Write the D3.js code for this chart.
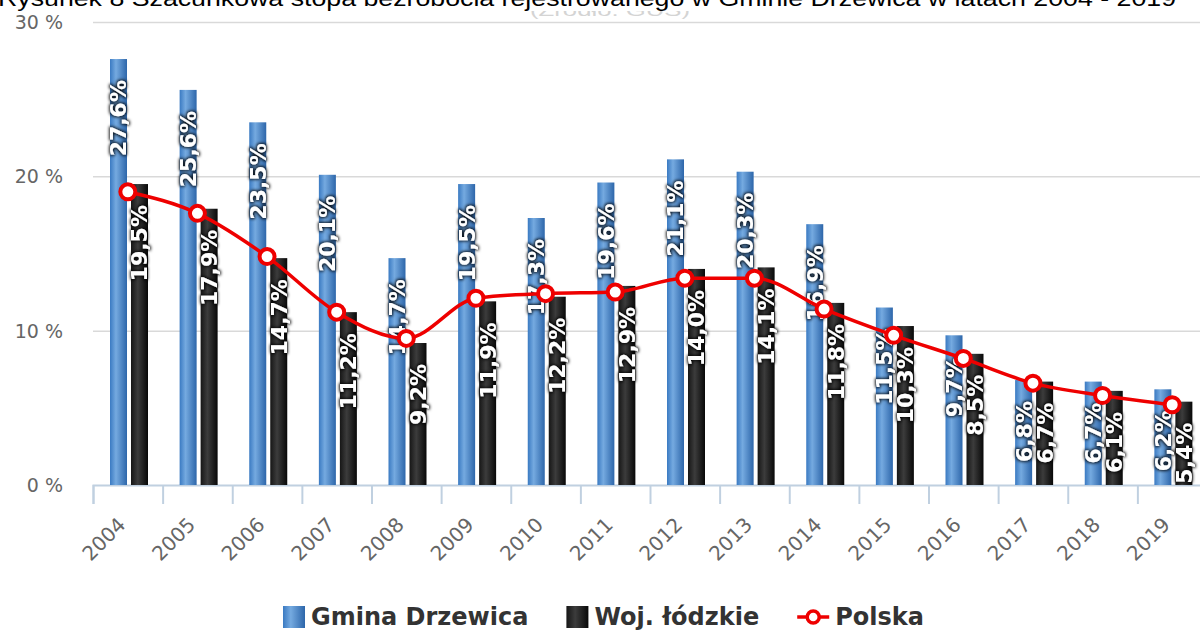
<!DOCTYPE html>
<html lang="pl">
<head>
<meta charset="utf-8">
<script src="https://cdn.jsdelivr.net/npm/d3@7"></script>
<style>
  html, body { margin: 0; padding: 0; background: #fff; }
  svg { display: block; }
</style>
</head>
<body>
<svg id="chart" width="1200" height="631"></svg>
<script>
// Szacunkowa stopa bezrobocia rejestrowanego, 2004–2019
const years   = ['2004','2005','2006','2007','2008','2009','2010','2011','2012','2013','2014','2015','2016','2017','2018','2019'];
const gmina   = [27.6, 25.6, 23.5, 20.1, 14.7, 19.5, 17.3, 19.6, 21.1, 20.3, 16.9, 11.5, 9.7, 6.8, 6.7, 6.2];
const woj     = [19.5, 17.9, 14.7, 11.2, 9.2, 11.9, 12.2, 12.9, 14.0, 14.1, 11.8, 10.3, 8.5, 6.7, 6.1, 5.4];
const polska  = [19.0, 17.6, 14.8, 11.2, 9.5, 12.1, 12.4, 12.5, 13.4, 13.4, 11.4, 9.7, 8.2, 6.6, 5.8, 5.2];
const yTicks  = [0, 10, 20, 30];
const seriesNames = ['Gmina Drzewica', 'Woj. łódzkie', 'Polska'];
const titleText = 'Rysunek 8 Szacunkowa stopa bezrobocia rejestrowanego w Gminie Drzewica w latach 2004 - 2019';
const sourceText = '(Źródło: GUS)';

const svg = d3.select('#chart');
const W = 1200;
const plot = { left: 93, right: 1207, top: 22, bottom: 485 };

const defs = svg.append('defs');

// column gradients
function hGradient(id, stops) {
  const g = defs.append('linearGradient').attr('id', id)
    .attr('x1', '0%').attr('x2', '100%').attr('y1', '0%').attr('y2', '0%');
  stops.forEach(([o, c]) => g.append('stop').attr('offset', o).attr('stop-color', c));
}
hGradient('gradBlue',  [['0%', '#3a7ac2'], ['35%', '#75aae0'], ['100%', '#2d66aa']]);
hGradient('gradBlack', [['0%', '#161616'], ['40%', '#3c3c3c'], ['100%', '#080808']]);

// dark halo behind the white value labels
const f = defs.append('filter').attr('id', 'halo')
  .attr('x', '-50%').attr('y', '-50%').attr('width', '200%').attr('height', '200%');
f.append('feMorphology').attr('in', 'SourceAlpha').attr('operator', 'dilate').attr('radius', 1).attr('result', 'd');
f.append('feGaussianBlur').attr('in', 'd').attr('stdDeviation', 1.6).attr('result', 'b');
f.append('feFlood').attr('flood-color', '#000').attr('flood-opacity', 0.85);
f.append('feComposite').attr('in2', 'b').attr('operator', 'in').attr('result', 's');
const fm = f.append('feMerge');
fm.append('feMergeNode').attr('in', 's');
fm.append('feMergeNode').attr('in', 'SourceGraphic');

defs.append('clipPath').attr('id', 'srcClip')
  .append('rect').attr('x', 0).attr('y', 11).attr('width', W).attr('height', 20);

// scales
const x = d3.scaleBand().domain(years).range([plot.left, plot.right]).paddingInner(0).paddingOuter(0);
const xEdge = d3.scaleLinear().domain([0, years.length]).range([plot.left, plot.right]);
const inner = d3.scaleBand().domain(['gmina', 'woj']).range([17, 55]).paddingInner(0.19).paddingOuter(0);
const y = d3.scaleLinear().domain([0, 30]).range([plot.bottom, plot.top]);

// title (runs off the top edge)
svg.append('text')
  .attr('x', -2).attr('y', 6)
  .attr('font-family', 'Liberation Sans, Arial, sans-serif')
  .attr('font-size', 22).attr('fill', '#000')
  .attr('textLength', 1178).attr('lengthAdjust', 'spacingAndGlyphs')
  .text(titleText);

svg.append('text')
  .attr('x', 530).attr('y', 16)
  .attr('clip-path', 'url(#srcClip)')
  .attr('font-family', 'Liberation Sans, Arial, sans-serif')
  .attr('font-size', 17).attr('fill', '#d4d4d4')
  .attr('textLength', 160).attr('lengthAdjust', 'spacingAndGlyphs')
  .text(sourceText);

// grid + y labels
const yAxis = svg.append('g')
  .attr('transform', `translate(${plot.left},0)`)
  .call(d3.axisLeft(y).tickValues(yTicks).tickSize(-(W - plot.left)).tickFormat(d => d + ' %'));
yAxis.select('.domain').remove();
yAxis.selectAll('.tick line').attr('stroke', d => d === 0 ? 'none' : '#d9d9d9').attr('stroke-width', 1.5);
yAxis.selectAll('.tick text')
  .attr('x', -30).attr('dy', '0.35em')
  .attr('font-family', 'DejaVu Sans, sans-serif').attr('font-size', 19).attr('fill', '#666');

// x axis line and category ticks
const xAxis = svg.append('g')
  .attr('transform', `translate(0,${plot.bottom})`)
  .call(d3.axisBottom(xEdge).tickValues(d3.range(years.length + 1)).tickSize(19).tickFormat(''));
xAxis.select('.domain').attr('stroke', '#c0d0e0').attr('stroke-width', 2);
xAxis.selectAll('.tick line').attr('stroke', '#c0d0e0').attr('stroke-width', 2);

svg.append('g').selectAll('text')
  .data(years).join('text')
  .attr('transform', d => `translate(${x(d) + x.bandwidth() / 2 - 6},${plot.bottom + 36}) rotate(-45)`)
  .attr('text-anchor', 'end')
  .attr('dy', '0.35em')
  .attr('font-family', 'DejaVu Sans, sans-serif').attr('font-size', 20).attr('fill', '#666')
  .text(d => d);

// columns
const rows = years.map((yr, i) => ({ yr, gmina: gmina[i], woj: woj[i], polska: polska[i] }));
const bars = [];
rows.forEach(r => {
  bars.push({ yr: r.yr, key: 'gmina', v: r.gmina });
  bars.push({ yr: r.yr, key: 'woj', v: r.woj });
});

svg.append('g').selectAll('rect')
  .data(bars).join('rect')
  .attr('x', d => x(d.yr) + inner(d.key))
  .attr('width', inner.bandwidth())
  .attr('y', d => y(d.v))
  .attr('height', d => y(0) - y(d.v))
  .attr('fill', d => d.key === 'gmina' ? 'url(#gradBlue)' : 'url(#gradBlack)');

// value labels, rotated inside the columns
const fmt = v => d3.format('.1f')(v).replace('.', ',') + '%';
svg.append('g').attr('filter', 'url(#halo)').selectAll('text')
  .data(bars).join('text')
  .attr('transform', d => `translate(${x(d.yr) + inner(d.key) + inner.bandwidth() / 2},${y(d.v) + 21}) rotate(-90)`)
  .attr('text-anchor', 'end')
  .attr('dy', '0.36em')
  .attr('font-family', 'DejaVu Sans, sans-serif').attr('font-weight', 'bold')
  .attr('font-size', 22).attr('fill', '#fff')
  .text(d => fmt(d.v));

// Polska line
const cx = d => x(d.yr) + x.bandwidth() / 2;
const line = d3.line().x(cx).y(d => y(d.polska)).curve(d3.curveMonotoneX);
svg.append('path')
  .datum(rows)
  .attr('d', line)
  .attr('fill', 'none').attr('stroke', '#ee0000').attr('stroke-width', 3.5);

svg.append('g').selectAll('circle')
  .data(rows).join('circle')
  .attr('cx', cx).attr('cy', d => y(d.polska))
  .attr('r', 7.5)
  .attr('fill', '#fff').attr('stroke', '#ee0000').attr('stroke-width', 4);

// legend
const legend = svg.append('g').attr('transform', 'translate(283,616)');
let lx = 0;
seriesNames.forEach((name, i) => {
  const item = legend.append('g').attr('transform', `translate(${lx},0)`);
  let symW;
  if (i < 2) {
    item.append('rect').attr('x', 0).attr('y', -10).attr('width', 22).attr('height', 22)
      .attr('fill', i === 0 ? 'url(#gradBlue)' : 'url(#gradBlack)');
    symW = 22;
  } else {
    item.append('line').attr('x1', 0).attr('x2', 32).attr('y1', 1).attr('y2', 1)
      .attr('stroke', '#ee0000').attr('stroke-width', 3.5);
    item.append('circle').attr('cx', 16).attr('cy', 1).attr('r', 6)
      .attr('fill', '#fff').attr('stroke', '#ee0000').attr('stroke-width', 3.5);
    symW = 32;
  }
  const t = item.append('text')
    .attr('x', symW + 6).attr('y', 0).attr('dy', '0.36em')
    .attr('font-family', 'DejaVu Sans, sans-serif').attr('font-weight', 'bold')
    .attr('font-size', 24).attr('fill', '#333')
    .text(name);
  lx += symW + 6 + t.node().getComputedTextLength() + 38;
});
</script>
</body>
</html>
